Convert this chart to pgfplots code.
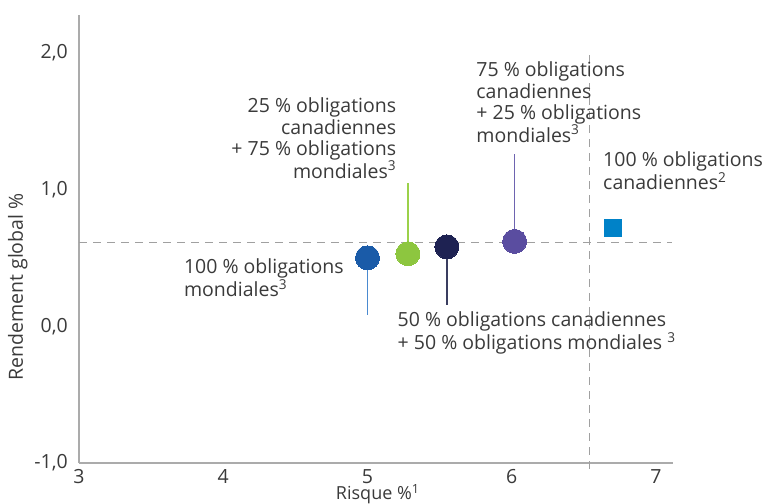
\documentclass[border=0pt]{standalone}
\usepackage{fontspec}
\setmainfont{Open Sans}
\usepackage{pgfplots}
\pgfplotsset{compat=1.18}
\definecolor{txt}{HTML}{3A3A3A}
\definecolor{axgray}{HTML}{ABABAB}
\definecolor{dashgray}{HTML}{A0A0A0}
\definecolor{cblue}{HTML}{1A5BA8}
\definecolor{lblue}{HTML}{4A8AD0}
\definecolor{cgreen}{HTML}{8DC63F}
\definecolor{lgreen}{HTML}{9BD14A}
\definecolor{cnavy}{HTML}{1E2252}
\definecolor{lnavy}{HTML}{3A3E60}
\definecolor{cpurple}{HTML}{5A4DA0}
\definecolor{lpurple}{HTML}{6E64B0}
\definecolor{csq}{HTML}{0082C8}
\newcommand\lf{\fontsize{19.5bp}{21.3bp}\selectfont}
\newcommand\xf{\fontsize{18bp}{21bp}\selectfont}
\begin{document}
\begin{tikzpicture}
\path[use as bounding box] (0,0) rectangle (770bp,504bp);
\begin{axis}[at={(79bp,41bp)}, anchor=south west, scale only axis,
  width=594bp, height=448bp,
  xmin=3, xmax=7.118, ymin=-1, ymax=2.275,
  axis x line=bottom, axis y line=left,
  axis line style={-, draw=axgray, line width=1.4bp},
  xtick={3,4,5,6,7}, ytick={-1,0,1,2},
  yticklabels={{-1,0},{0,0},{1,0},{2,0}},
  major tick length=0pt,
  tick label style={font=\lf, text=txt},
  /pgf/number format/assume math mode=true,
  xticklabel style={inner sep=0pt, yshift=-6.5bp},
  yticklabel style={inner sep=0pt, xshift=-11bp},
  xlabel={Risque \%\textsuperscript{1}},
  ylabel={Rendement global \%},
  label style={font=\lf, text=txt},
  xlabel style={font=\xf, inner sep=0pt, at={(axis description cs:0.503,-0.0815)}, anchor=base},
  ylabel style={at={(axis description cs:-0.103,0.393)}, anchor=center},
  clip=false,
]
% reference lines
\addplot[draw=dashgray, dash pattern=on 8bp off 6bp, line width=1.1bp] coordinates {(3,0.61) (7.11,0.61)};
\addplot[draw=dashgray, dash pattern=on 8bp off 6bp, line width=1.1bp] coordinates {(6.54,1.98) (6.54,-1.05)};
% leader lines
\addplot[draw=lblue, line width=1.6bp] coordinates {(5.00,0.50) (5.00,0.08)};
\addplot[draw=lgreen, line width=1.6bp] coordinates {(5.28,0.53) (5.28,1.05)};
\addplot[draw=lnavy, line width=1.6bp] coordinates {(5.55,0.58) (5.55,0.156)};
\addplot[draw=lpurple, line width=1.6bp] coordinates {(6.02,0.62) (6.02,1.26)};
% points
\addplot[only marks, mark=*, mark size=12bp, mark options={draw=cblue, fill=cblue, line width=0pt}] coordinates {(5.00,0.50)};
\addplot[only marks, mark=*, mark size=12bp, mark options={draw=cgreen, fill=cgreen, line width=0pt}] coordinates {(5.28,0.53)};
\addplot[only marks, mark=*, mark size=12bp, mark options={draw=cnavy, fill=cnavy, line width=0pt}] coordinates {(5.55,0.58)};
\addplot[only marks, mark=*, mark size=12bp, mark options={draw=cpurple, fill=cpurple, line width=0pt}] coordinates {(6.02,0.62)};
\addplot[only marks, mark=square*, mark size=8.5bp, mark options={draw=csq, fill=csq, line width=0pt}] coordinates {(6.70,0.72)};
% labels
\node[font=\lf, text=txt, anchor=north east, align=right, inner sep=0pt] at (axis cs:5.20,1.670)
  {25 \% obligations\\canadiennes\\+ 75 \% obligations\\mondiales\textsuperscript{3}};
\node[font=\lf, text=txt, anchor=north west, align=left, inner sep=0pt] at (axis cs:5.754,1.933)
  {75 \% obligations\\canadiennes\\+ 25 \% obligations\\mondiales\textsuperscript{3}};
\node[font=\lf, text=txt, anchor=north west, align=left, inner sep=0pt] at (axis cs:6.633,1.275)
  {100 \% obligations\\canadiennes\textsuperscript{2}};
\node[font=\lf, text=txt, anchor=north west, align=left, inner sep=0pt] at (axis cs:3.727,0.493)
  {100 \% obligations\\mondiales\textsuperscript{3}};
\node[font=\lf, text=txt, anchor=north west, align=left, inner sep=0pt] at (axis cs:5.208,0.105)
  {50 \% obligations canadiennes\\+ 50 \% obligations mondiales \textsuperscript{3}};
\end{axis}
\end{tikzpicture}
\end{document}
